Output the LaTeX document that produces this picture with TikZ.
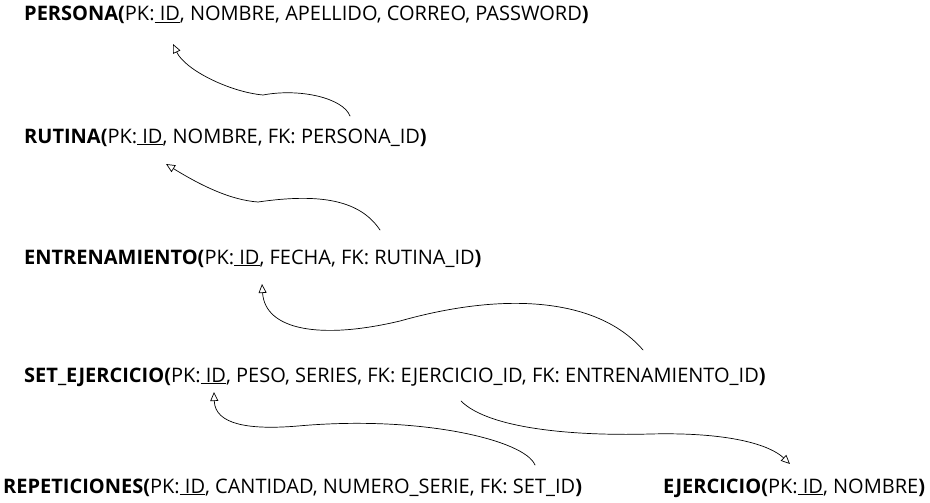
\documentclass[tikz,border=0pt]{standalone}
\usepackage{fontspec}
\setmainfont{Open Sans}
\usetikzlibrary{arrows.meta,calc}
\newcommand{\tabla}[2]{\textbf{#1(}#2\textbf{)}}
\newcommand{\pkid}{PK:\underline{ ID}}
\begin{document}
\begin{tikzpicture}[x=1pt,y=-1pt, font=\fontsize{20}{24}\selectfont, line join=round, line cap=round, >={Triangle[open,length=9pt,width=8pt]}]
	\tikzset{tabla/.style={anchor=base west,inner sep=0pt}, fk/.style={->,line width=0.7pt}}
	\useasboundingbox (0,0) rectangle (930,503);
	% tablas
	\node[tabla] (persona) at (24,21) {\tabla{PERSONA}{\pkid, NOMBRE, APELLIDO, CORREO, PASSWORD}};
	\node[tabla] (rutina) at (24,143) {\tabla{RUTINA}{\pkid, NOMBRE, FK: PERSONA\_ID}};
	\node[tabla] (entrenamiento) at (24,264) {\tabla{ENTRENAMIENTO}{\pkid, FECHA, FK: RUTINA\_ID}};
	\node[tabla] (setej) at (24,382) {\tabla{SET\_EJERCICIO}{\pkid, PESO, SERIES, FK: EJERCICIO\_ID, FK: ENTRENAMIENTO\_ID}};
	\node[tabla] (repeticiones) at (3,493) {\tabla{REPETICIONES}{\pkid, CANTIDAD, NUMERO\_SERIE, FK: SET\_ID}};
	\node[tabla] (ejercicio) at (663,493) {\tabla{EJERCICIO}{\pkid, NOMBRE}};
	% claves foraneas
	\draw[fk] ($(rutina.base west)+(326,-27)$) .. controls (343,98) and (300,88) .. (263,95) .. controls (230,92) and (185,70) .. ($(persona.base west)+(149,23)$);
	\draw[fk] ($(entrenamiento.base west)+(356,-34)$) .. controls (360,200) and (320,193) .. (258,202) .. controls (230,200) and (200,185) .. ($(rutina.base west)+(142,21)$);
	\draw[fk] ($(setej.base west)+(619,-32)$) .. controls (600,300) and (510,290) .. (400,321) .. controls (320,340) and (265,330) .. ($(entrenamiento.base west)+(238,20)$);
	\draw[fk] ($(repeticiones.base west)+(532,-28)$) .. controls (525,440) and (420,415) .. (298,426) .. controls (250,430) and (215,425) .. ($(setej.base west)+(190,10)$);
	\draw[fk] ($(setej.base west)+(437,19)$) .. controls (490,430) and (580,436) .. (650,434) .. controls (730,432) and (770,445) .. ($(ejercicio.base west)+(127,-29)$);
\end{tikzpicture}
\end{document}
